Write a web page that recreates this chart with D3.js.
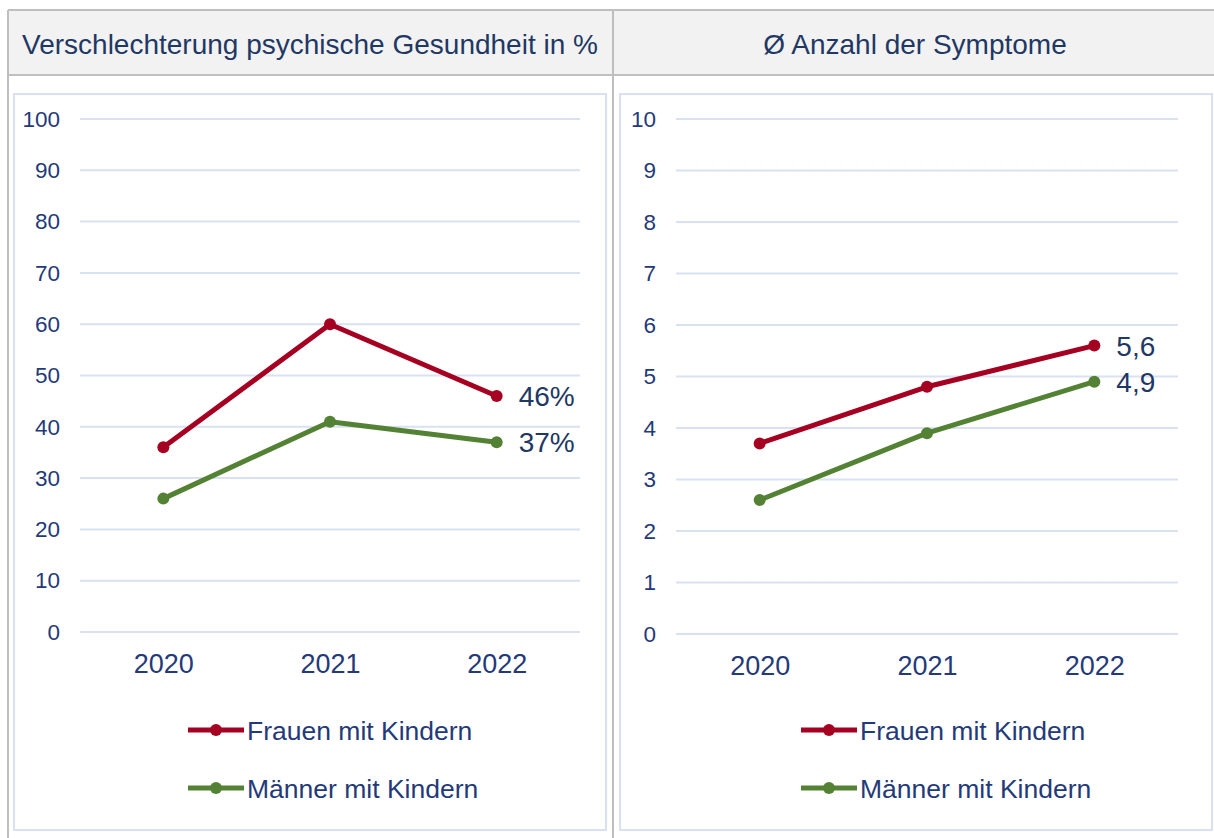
<!DOCTYPE html>
<html>
<head>
<meta charset="utf-8">
<script src="https://cdn.jsdelivr.net/npm/d3@7"></script>
<style>
  body { margin: 0; background: #fff; }
  svg { display: block; font-family: Arial, "Liberation Sans", sans-serif; }
</style>
</head>
<body>
<svg id="chart" width="1214" height="838"></svg>
<script>
"use strict";

// Daten
var years = ["2020", "2021", "2022"];
var seriesNames = ["Frauen mit Kindern", "Männer mit Kindern"];
var titles = ["Verschlechterung psychische Gesundheit in %", "Ø Anzahl der Symptome"];

var healthFrauen = [36, 60, 46];
var healthMaenner = [26, 41, 37];
var healthTicks = [0, 10, 20, 30, 40, 50, 60, 70, 80, 90, 100];
var healthLabels = ["46%", "37%"];

var symptFrauen = [3.7, 4.8, 5.6];
var symptMaenner = [2.6, 3.9, 4.9];
var symptTicks = [0, 1, 2, 3, 4, 5, 6, 7, 8, 9, 10];
var symptLabels = ["5,6", "4,9"];

var colors = ["#a50021", "#548235"];
var textColor = "#243a78";
var titleColor = "#1f3864";
var gridColor = "#d9e1f2";
var fontStack = "Arial, 'Liberation Sans', sans-serif";

var svg = d3.select("#chart");

// Tabelle (Kopfzeile + Rahmen)
var tableLeft = 8, tableTop = 10, colSplit = 613, headBottom = 75;
svg.append("rect")
  .attr("x", tableLeft).attr("y", tableTop)
  .attr("width", 1214 - tableLeft + 5).attr("height", headBottom - tableTop)
  .attr("fill", "#f2f2f2");
svg.append("line").attr("x1", tableLeft).attr("x2", 1214).attr("y1", tableTop).attr("y2", tableTop)
  .attr("stroke", "#bfbfbf").attr("stroke-width", 2);
svg.append("line").attr("x1", tableLeft).attr("x2", 1214).attr("y1", headBottom).attr("y2", headBottom)
  .attr("stroke", "#bfbfbf").attr("stroke-width", 2);
svg.append("line").attr("x1", tableLeft).attr("x2", tableLeft).attr("y1", tableTop).attr("y2", 838)
  .attr("stroke", "#bfbfbf").attr("stroke-width", 2);
svg.append("line").attr("x1", colSplit).attr("x2", colSplit).attr("y1", tableTop).attr("y2", 838)
  .attr("stroke", "#bfbfbf").attr("stroke-width", 2);

svg.append("text").text(titles[0])
  .attr("x", 310).attr("y", 54).attr("text-anchor", "middle")
  .attr("font-size", "28px").attr("fill", titleColor);
svg.append("text").text(titles[1])
  .attr("x", 915).attr("y", 54).attr("text-anchor", "middle")
  .attr("font-size", "28px").attr("fill", titleColor);

// Ein Diagramm zeichnen
function drawPanel(box, plot, yMax, ticks, frauen, maenner, labels, legendX) {
  var g = svg.append("g");

  g.append("rect")
    .attr("x", box.x).attr("y", box.y)
    .attr("width", box.w).attr("height", box.h)
    .attr("fill", "#fff").attr("stroke", gridColor).attr("stroke-width", 2);

  var x = d3.scalePoint().domain(years).range([plot.left, plot.right]).padding(0.5);
  var y = d3.scaleLinear().domain([0, yMax]).range([plot.bottom, plot.top]);

  // Gitterlinien
  g.selectAll(".grid")
    .data(ticks)
    .enter()
    .append("line")
      .attr("x1", plot.left).attr("x2", plot.right)
      .attr("y1", function(d) { return y(d); })
      .attr("y2", function(d) { return y(d); })
      .attr("stroke", gridColor).attr("stroke-width", 2);

  // Achsen
  var yAxis = d3.axisLeft(y).tickValues(ticks).tickSize(0).tickPadding(0);
  var ya = g.append("g").attr("transform", "translate(" + (plot.left - 20) + ",0)").call(yAxis);
  ya.select(".domain").remove();
  ya.selectAll("text").attr("font-size", "22.5px").attr("fill", textColor)
    .attr("font-family", fontStack);

  var xAxis = d3.axisBottom(x).tickSize(0).tickPadding(0);
  var xa = g.append("g").attr("transform", "translate(0," + (plot.bottom + 22) + ")").call(xAxis);
  xa.select(".domain").remove();
  xa.selectAll("text").attr("font-size", "27px").attr("fill", textColor)
    .attr("font-family", fontStack);

  var line = d3.line()
    .x(function(d, i) { return x(years[i]); })
    .y(function(d) { return y(d); });

  [frauen, maenner].forEach(function(values, s) {
    g.append("path")
      .datum(values)
      .attr("d", line)
      .attr("fill", "none")
      .attr("stroke", colors[s])
      .attr("stroke-width", 5)
      .attr("stroke-linejoin", "round");
    g.selectAll(".dot" + s)
      .data(values)
      .enter()
      .append("circle")
        .attr("cx", function(d, i) { return x(years[i]); })
        .attr("cy", function(d) { return y(d); })
        .attr("r", 6)
        .attr("fill", colors[s]);
    // Wertbeschriftung am letzten Punkt
    g.append("text")
      .text(labels[s])
      .attr("x", x(years[2]) + 22)
      .attr("y", y(values[2]))
      .attr("dy", "0.36em")
      .attr("font-size", "28px")
      .attr("fill", titleColor);
  });

  // Legende
  seriesNames.forEach(function(name, s) {
    var ly = 730 + s * 58;
    g.append("line")
      .attr("x1", legendX).attr("x2", legendX + 56)
      .attr("y1", ly).attr("y2", ly)
      .attr("stroke", colors[s]).attr("stroke-width", 5);
    g.append("circle")
      .attr("cx", legendX + 28).attr("cy", ly).attr("r", 6)
      .attr("fill", colors[s]);
    g.append("text")
      .text(name)
      .attr("x", legendX + 59).attr("y", ly)
      .attr("dy", "0.36em")
      .attr("font-size", "26.5px")
      .attr("fill", textColor);
  });
}

drawPanel({ x: 14, y: 94, w: 592, h: 736 },
  { left: 80, right: 580, top: 119, bottom: 632 },
  100, healthTicks, healthFrauen, healthMaenner, healthLabels, 188);

drawPanel({ x: 620, y: 94, w: 592, h: 736 },
  { left: 676, right: 1178, top: 119, bottom: 634 },
  10, symptTicks, symptFrauen, symptMaenner, symptLabels, 801);
</script>
</body>
</html>
